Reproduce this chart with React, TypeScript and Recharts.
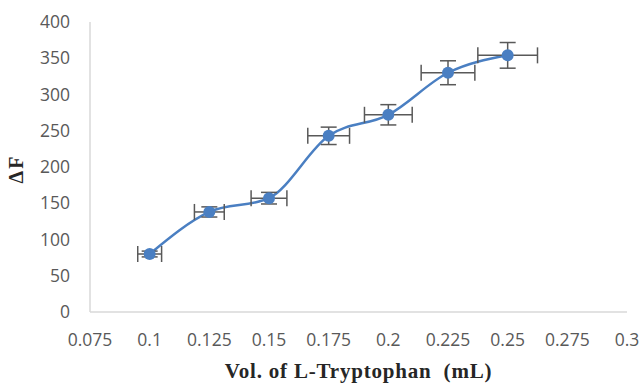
import React from 'react';
import { ComposedChart, Line, Scatter, XAxis, YAxis, ErrorBar } from 'recharts';

const vol = [0.1, 0.125, 0.15, 0.175, 0.2, 0.225, 0.25];
const deltaF = [80, 138, 157, 243, 272, 330, 354];
const volErr = [0.005, 0.00625, 0.0075, 0.00875, 0.01, 0.01125, 0.0125];
const deltaFErr = [4, 7, 8, 12, 14, 16.5, 17.7];
const xTicks = [0.075, 0.1, 0.125, 0.15, 0.175, 0.2, 0.225, 0.25, 0.275, 0.3];
const yTicks = [0, 50, 100, 150, 200, 250, 300, 350, 400];

const data = vol.map((v, i) => ({ x: v, y: deltaF[i], xErr: volErr[i], yErr: deltaFErr[i] }));

const BLUE = '#4a7fc2';
const GREY = '#595959';
const AXIS = '#d9d9d9';
const TICK_FONT = '"Open Sans", "Noto Sans", sans-serif';

const YLabel = (props: any) => {
  const vb = props.viewBox || { x: 0, y: 22, width: 90, height: 290 };
  const cx = 16;
  const cy = vb.y + vb.height / 2 + 2;
  return (
    <text
      x={cx}
      y={cy}
      transform={`rotate(-90 ${cx} ${cy})`}
      textAnchor="middle"
      dominantBaseline="central"
      style={{ fontFamily: '"Liberation Serif", serif', fontWeight: 'bold', fontSize: 20, letterSpacing: 2, fill: '#262626' }}
    >
      ΔF
    </text>
  );
};

export default function App() {
  return (
    <div style={{ position: 'absolute', left: 0, top: 0 }}>
      <ComposedChart width={639} height={383} data={data} margin={{ top: 22, right: 12, bottom: 0, left: 0 }}>
        <XAxis
          type="number"
          dataKey="x"
          domain={[0.075, 0.3]}
          ticks={xTicks}
          interval={0}
          height={71}
          tickLine={false}
          tickSize={0}
          tickMargin={22}
          axisLine={{ stroke: AXIS, strokeWidth: 1.5 }}
          tick={{ fill: GREY, fontSize: 17.5, fontFamily: TICK_FONT }}
          label={{
            value: 'Vol. of L-Tryptophan\u00a0 (mL)',
            position: 'insideBottom',
            offset: 5,
            style: { fontFamily: '"Liberation Serif", serif', fontWeight: 'bold', fontSize: 21, letterSpacing: 0.8, fill: '#262626', whiteSpace: 'pre' },
          }}
        />
        <YAxis
          type="number"
          domain={[0, 400]}
          ticks={yTicks}
          interval={0}
          width={90}
          tickLine={false}
          tickSize={0}
          tickMargin={20}
          axisLine={{ stroke: AXIS, strokeWidth: 1.5 }}
          tick={{ fill: GREY, fontSize: 17.5, fontFamily: TICK_FONT }}
          label={<YLabel />}
        />
        <Line
          type="monotone"
          dataKey="y"
          stroke={BLUE}
          strokeWidth={2.5}
          dot={false}
          activeDot={false}
          isAnimationActive={false}
        />
        <Scatter dataKey="y" fill={BLUE} isAnimationActive={false} shape={(p: any) => <circle cx={p.cx} cy={p.cy} r={6} fill={BLUE} />}>
          <ErrorBar dataKey="xErr" direction="x" width={8} stroke={GREY} strokeWidth={1.5} />
          <ErrorBar dataKey="yErr" direction="y" width={8} stroke={GREY} strokeWidth={1.5} />
        </Scatter>
      </ComposedChart>
    </div>
  );
}
